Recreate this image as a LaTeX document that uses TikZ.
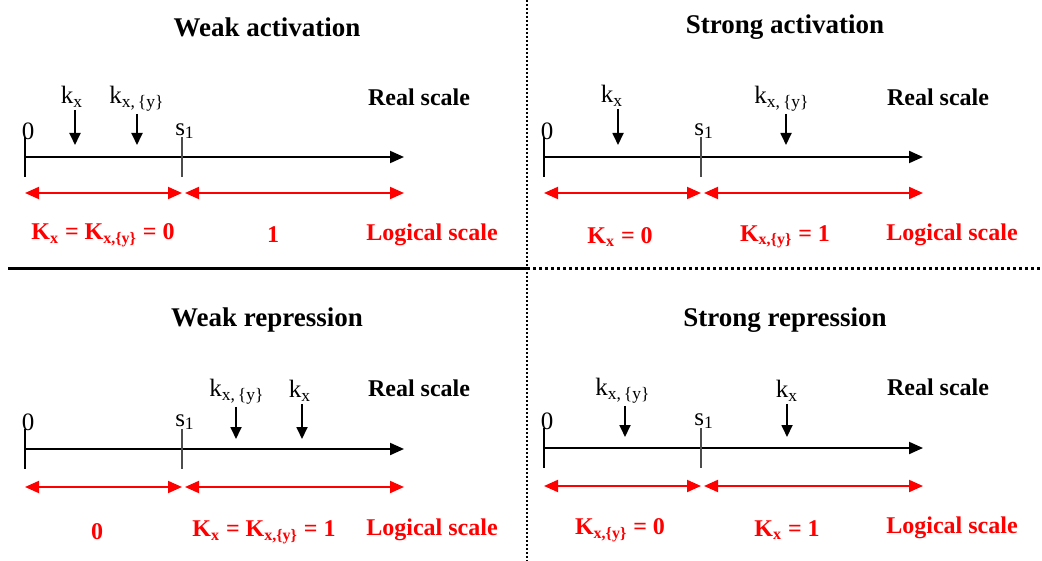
\documentclass[tikz,border=0pt]{standalone}
\usepackage{fontspec}
\setmainfont{Liberation Serif}
\usetikzlibrary{arrows.meta}

\tikzset{
  axis/.style = {line width=1pt, -{Triangle[length=7pt,width=6pt]}},
  tickmark/.style = {line width=0.6pt, draw=black!70},
  marker/.style = {line width=0.9pt, -{Triangle[length=6pt,width=5.5pt]}},
  logic/.style = {red, line width=1pt, {Triangle[length=7pt,width=6pt]}-{Triangle[length=7pt,width=6pt]}},
  title/.style = {font=\bfseries\fontsize{13.5}{16}\selectfont},
  lbl/.style = {font=\fontsize{12.5}{14}\selectfont, inner sep=1pt},
  real/.style = {font=\bfseries\fontsize{12}{14}\selectfont},
  logical/.style = {red, font=\bfseries\fontsize{12}{14}\selectfont},
  vdiv/.style = {line width=1pt, dash pattern=on 1pt off 1pt},
  hdiv/.style = {line width=1.5pt},
  hdot/.style = {line width=1.5pt, dash pattern=on 1.5pt off 1.5pt},
}
\newcommand{\kx}{k\textsubscript{x}}
\newcommand{\kxy}{k\textsubscript{x,\,\{y\}}}
\newcommand{\Kx}{K\textsubscript{x}}
\newcommand{\Kxy}{K\textsubscript{x,\{y\}}}

\begin{document}
\begin{tikzpicture}[x=0.5pt, y=-0.5pt]
\useasboundingbox (0,0) rectangle (1042,561);

% weak activation
\begin{scope}[name prefix=wa-]
  \node[title] (t) at (267,27) {Weak activation};
  \coordinate (o) at (25,157);
  \coordinate (s) at (182,157);
  \coordinate (e) at (404,157);
  \node[lbl] (zero) at (28,131) {0};
  \node[lbl] (s1) at (185,131) {s\textsubscript{1}};
  \node[real] (r) at (419,97) {Real scale};
  \draw[axis] (o) -- (e);
  \draw[tickmark, draw=black] ([yshift=10]o) -- ([yshift=-10]o);
  \draw[tickmark] ([yshift=10]s) -- ([yshift=-10]s);
  \node[lbl] (kx) at (72,97) {\kx};
  \coordinate (kxp) at (75,145);
  \draw[marker] (kx.south -| kxp) -- (kxp);
  \node[lbl] (kxy) at (137,99) {\kxy};
  \coordinate (kxyp) at (137,145);
  \draw[marker] (kxy.south -| kxyp) -- (kxyp);
  \coordinate (la) at (25,193);
  \coordinate (lb) at (182,193);
  \coordinate (lc) at (185,193);
  \coordinate (ld) at (404,193);
  \draw[logic] (la) -- (lb);
  \draw[logic] (lc) -- (ld);
  \node[logical] (v0) at (103,235) {\Kx{} = \Kxy{} = 0};
  \node[logical] (v1) at (273,235) {1};
  \node[logical] (ls) at (432,235) {Logical scale};
\end{scope}

% strong activation
\begin{scope}[shift={(519,0)}, name prefix=sa-]
  \node[title] (t) at (266,27) {Strong activation};
  \coordinate (o) at (25,157);
  \coordinate (s) at (182,157);
  \coordinate (e) at (404,157);
  \node[lbl] (zero) at (28,131) {0};
  \node[lbl] (s1) at (185,131) {s\textsubscript{1}};
  \node[real] (r) at (419,97) {Real scale};
  \draw[axis] (o) -- (e);
  \draw[tickmark, draw=black] ([yshift=10]o) -- ([yshift=-10]o);
  \draw[tickmark] ([yshift=10]s) -- ([yshift=-10]s);
  \node[lbl] (kx) at (93,96) {\kx};
  \coordinate (kxp) at (99,145);
  \draw[marker] (kx.south -| kxp) -- (kxp);
  \node[lbl] (kxy) at (263,99) {\kxy};
  \coordinate (kxyp) at (267,145);
  \draw[marker] (kxy.south -| kxyp) -- (kxyp);
  \coordinate (la) at (25,193);
  \coordinate (lb) at (182,193);
  \coordinate (lc) at (185,193);
  \coordinate (ld) at (404,193);
  \draw[logic] (la) -- (lb);
  \draw[logic] (lc) -- (ld);
  \node[logical] (v0) at (101,237) {\Kx{} = 0};
  \node[logical] (v1) at (266,237) {\Kxy{} = 1};
  \node[logical] (ls) at (433,235) {Logical scale};
\end{scope}

% weak repression
\begin{scope}[shift={(0,292)}, name prefix=wr-]
  \node[title] (t) at (267,28) {Weak repression};
  \coordinate (o) at (25,157);
  \coordinate (s) at (182,157);
  \coordinate (e) at (404,157);
  \node[lbl] (zero) at (28,130) {0};
  \node[lbl] (s1) at (185,130) {s\textsubscript{1}};
  \node[real] (r) at (419,96) {Real scale};
  \draw[axis] (o) -- (e);
  \draw[tickmark, draw=black] ([yshift=10]o) -- ([yshift=-10]o);
  \draw[tickmark] ([yshift=10]s) -- ([yshift=-10]s);
  \node[lbl] (kxy) at (237,100) {\kxy};
  \coordinate (kxyp) at (236,147);
  \draw[marker] (kxy.south -| kxyp) -- (kxyp);
  \node[lbl] (kx) at (300,99) {\kx};
  \coordinate (kxp) at (302,147);
  \draw[marker] (kx.south -| kxp) -- (kxp);
  \coordinate (la) at (25,195);
  \coordinate (lb) at (182,195);
  \coordinate (lc) at (185,195);
  \coordinate (ld) at (404,195);
  \draw[logic] (la) -- (lb);
  \draw[logic] (lc) -- (ld);
  \node[logical] (v0) at (97,240) {0};
  \node[logical] (v1) at (264,240) {\Kx{} = \Kxy{} = 1};
  \node[logical] (ls) at (432,238) {Logical scale};
\end{scope}

% strong repression
\begin{scope}[shift={(519,292)}, name prefix=sr-]
  \node[title] (t) at (266,28) {Strong repression};
  \coordinate (o) at (25,156);
  \coordinate (s) at (182,156);
  \coordinate (e) at (404,156);
  \node[lbl] (zero) at (28,129) {0};
  \node[lbl] (s1) at (185,129) {s\textsubscript{1}};
  \node[real] (r) at (419,95) {Real scale};
  \draw[axis] (o) -- (e);
  \draw[tickmark, draw=black] ([yshift=10]o) -- ([yshift=-10]o);
  \draw[tickmark] ([yshift=10]s) -- ([yshift=-10]s);
  \node[lbl] (kxy) at (104,99) {\kxy};
  \coordinate (kxyp) at (106,145);
  \draw[marker] (kxy.south -| kxyp) -- (kxyp);
  \node[lbl] (kx) at (268,99) {\kx};
  \coordinate (kxp) at (268,145);
  \draw[marker] (kx.south -| kxp) -- (kxp);
  \coordinate (la) at (25,194);
  \coordinate (lb) at (182,194);
  \coordinate (lc) at (185,194);
  \coordinate (ld) at (404,194);
  \draw[logic] (la) -- (lb);
  \draw[logic] (lc) -- (ld);
  \node[logical] (v0) at (101,238) {\Kxy{} = 0};
  \node[logical] (v1) at (268,238) {\Kx{} = 1};
  \node[logical] (ls) at (433,236) {Logical scale};
\end{scope}

% dividers
\coordinate (vt) at (527,0);
\coordinate (vb) at (527,561);
\coordinate (hl) at (8,268);
\coordinate (hm) at (527,268);
\coordinate (hr) at (1042,268);
\draw[vdiv] (vt) -- (vb);
\draw[hdiv] (hl) -- (hm);
\draw[hdot] (hm) -- (hr);
\end{tikzpicture}
\end{document}
